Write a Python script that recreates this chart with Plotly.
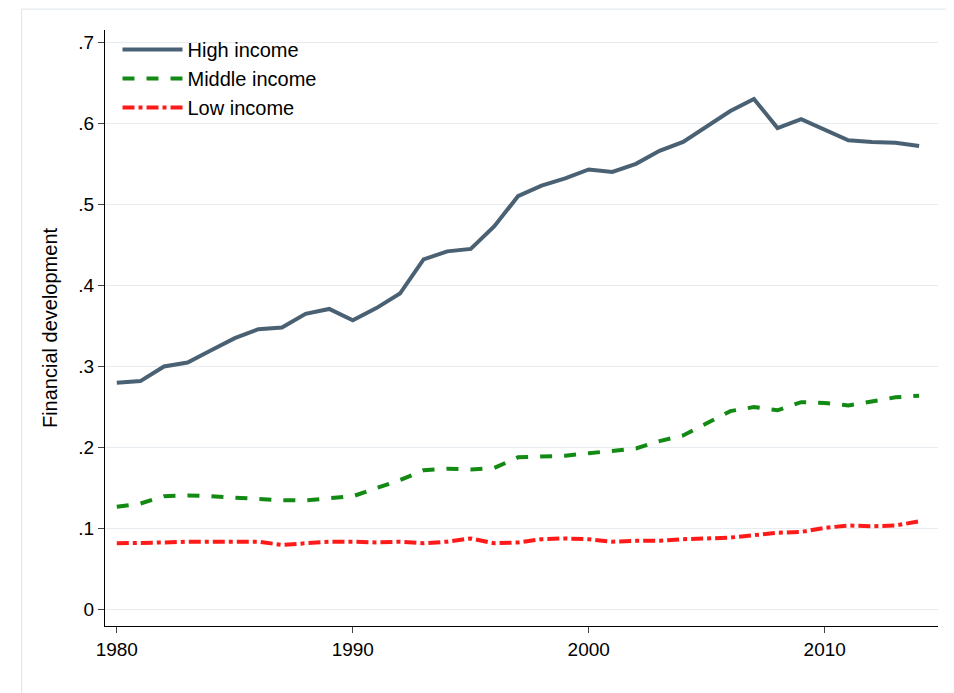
import plotly.graph_objects as go

years = list(range(1980, 2015))
high_income = [0.280, 0.282, 0.300, 0.305, 0.320, 0.335, 0.346, 0.348, 0.365, 0.371,
               0.357, 0.372, 0.390, 0.432, 0.442, 0.445, 0.473, 0.510, 0.523, 0.532,
               0.543, 0.540, 0.550, 0.566, 0.577, 0.596, 0.615, 0.630, 0.594, 0.605,
               0.592, 0.579, 0.577, 0.576, 0.572]
middle_income = [0.127, 0.131, 0.140, 0.141, 0.140, 0.138, 0.137, 0.135, 0.135, 0.138,
                 0.140, 0.150, 0.160, 0.172, 0.174, 0.173, 0.175, 0.188, 0.189, 0.190,
                 0.193, 0.196, 0.199, 0.208, 0.215, 0.230, 0.245, 0.250, 0.246, 0.256,
                 0.255, 0.252, 0.257, 0.262, 0.264]
low_income = [0.082, 0.082, 0.083, 0.084, 0.084, 0.085, 0.084, 0.080, 0.082, 0.084,
              0.084, 0.083, 0.084, 0.082, 0.084, 0.088, 0.082, 0.083, 0.087, 0.088,
              0.087, 0.084, 0.085, 0.085, 0.087, 0.088, 0.089, 0.092, 0.095, 0.096,
              0.101, 0.104, 0.103, 0.104, 0.109]
y_ticks = [0, 0.1, 0.2, 0.3, 0.4, 0.5, 0.6, 0.7]
y_labels = ["0", ".1", ".2", ".3", ".4", ".5", ".6", ".7"]

fig = go.Figure()
fig.add_trace(go.Scatter(x=years, y=high_income, name="High income", mode="lines",
                         line=dict(color="#4a6173", width=4)))
fig.add_trace(go.Scatter(x=years, y=middle_income, name="Middle income", mode="lines",
                         line=dict(color="#138a13", width=4, dash="dash")))
fig.add_trace(go.Scatter(x=years, y=low_income, name="Low income", mode="lines",
                         line=dict(color="#ff1a1a", width=4, dash="dashdot")))

fig.update_layout(
    width=954, height=693,
    paper_bgcolor="white", plot_bgcolor="white",
    margin=dict(l=97, r=24, t=22, b=75),
    font=dict(family="Arial, Liberation Sans", size=19, color="black"),
    legend=dict(x=0.015, y=1.0, xanchor="left", yanchor="top", itemwidth=60,
                bgcolor="rgba(0,0,0,0)", font=dict(size=20)),
    xaxis=dict(range=[1979.5, 2014.8], tickvals=[1980, 1990, 2000, 2010],
               showgrid=False, showline=True, linecolor="black", ticks="outside",
               ticklen=6, zeroline=False),
    yaxis=dict(range=[-0.02, 0.715], tickvals=y_ticks, ticktext=y_labels,
               title=dict(text="Financial development", font=dict(size=20)),
               showgrid=True, gridcolor="#e6ecef", showline=True, linecolor="black",
               ticks="outside", ticklen=6, zeroline=False),
    shapes=[dict(type="rect", xref="paper", yref="paper", x0=-0.1, y0=-0.125,
                 x1=1.028, y1=1.035, line=dict(color="#dde6ea", width=1))],
)

fig.write_html("out.html")
